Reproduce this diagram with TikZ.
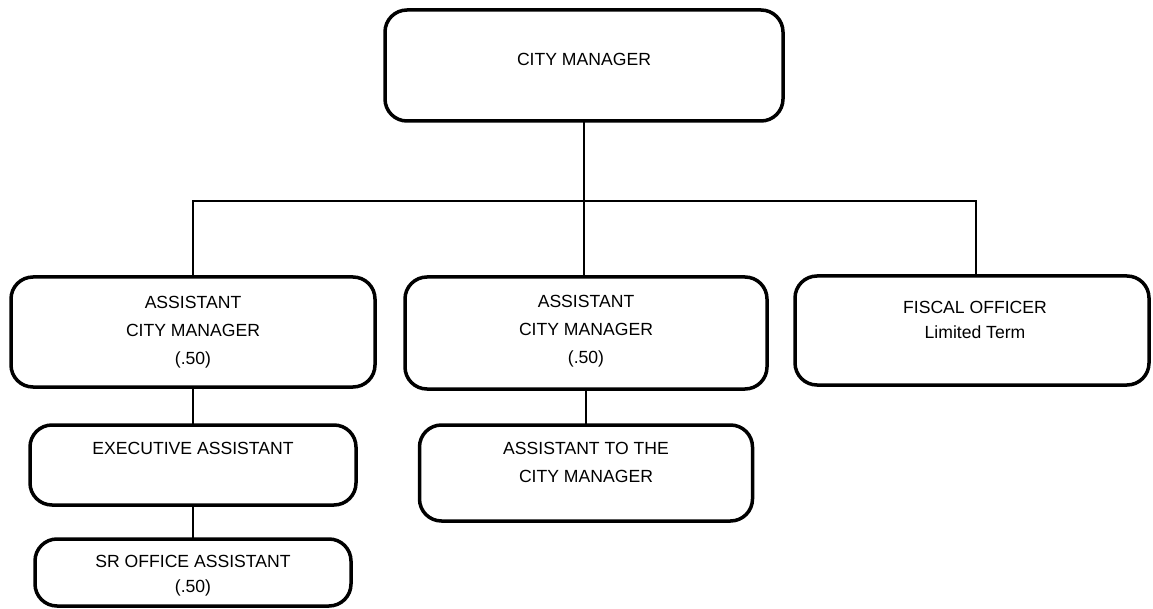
\documentclass[tikz,border=0pt]{standalone}
\usepackage{fontspec}
\setmainfont{Liberation Sans}
\begin{document}
\begin{tikzpicture}[x=1pt,y=-1pt,
  box/.style={draw=black, line width=3.5pt, rounded corners=22pt, rectangle, inner sep=0pt, outer sep=0pt},
  lbl/.style={anchor=base, align=center, inner sep=0pt, font=\fontsize{17.6}{28}\selectfont},
  lbltight/.style={anchor=base, align=center, inner sep=0pt, font=\fontsize{17.6}{25}\selectfont},
  conn/.style={draw=black, line width=1.3pt}]
\useasboundingbox (0,0) rectangle (1153,609);

\node[box, minimum width=398pt, minimum height=111pt] (cm) at (584,65.5) {};
\node[box, minimum width=364pt, minimum height=110pt] (acm1) at (193,332) {};
\node[box, minimum width=362pt, minimum height=112pt] (acm2) at (586,333) {};
\node[box, minimum width=354pt, minimum height=109pt] (fo) at (972,330.5) {};
\node[box, minimum width=326pt, minimum height=80pt] (ea) at (193,465) {};
\node[box, minimum width=316pt, minimum height=67pt] (sr) at (193,572.5) {};
\node[box, minimum width=333pt, minimum height=96pt] (atcm) at (586,473) {};

\node[lbl] (tcm) at (584,66) {CITY MANAGER};
\node[lbl] (tacm1) at (193,364) {ASSISTANT\\CITY MANAGER\\(.50)};
\node[lbl] (tacm2) at (586,363) {ASSISTANT\\CITY MANAGER\\(.50)};
\node[lbltight] (tfo) at (975,338) {FISCAL OFFICER\\Limited Term};
\node[lbl] (tea) at (193,454) {EXECUTIVE ASSISTANT};
\node[lbltight] (tsr) at (193,592) {SR OFFICE ASSISTANT\\(.50)};
\node[lbl] (tatcm) at (586,482) {ASSISTANT TO THE\\CITY MANAGER};

\coordinate (bus) at (584,201);
\coordinate (busL) at (193,201);
\coordinate (busR) at (976,201);

\draw[conn] (cm.south) -- (bus);
\draw[conn] (busL |- acm1.north) -- (busL) -- (busR) -- (busR |- fo.north);
\draw[conn] (bus) -- (bus |- acm2.north);
\draw[conn] (acm1.south) -- (ea.north);
\draw[conn] (ea.south) -- (sr.north);
\draw[conn] (acm2.south) -- (atcm.north);
\end{tikzpicture}
\end{document}
